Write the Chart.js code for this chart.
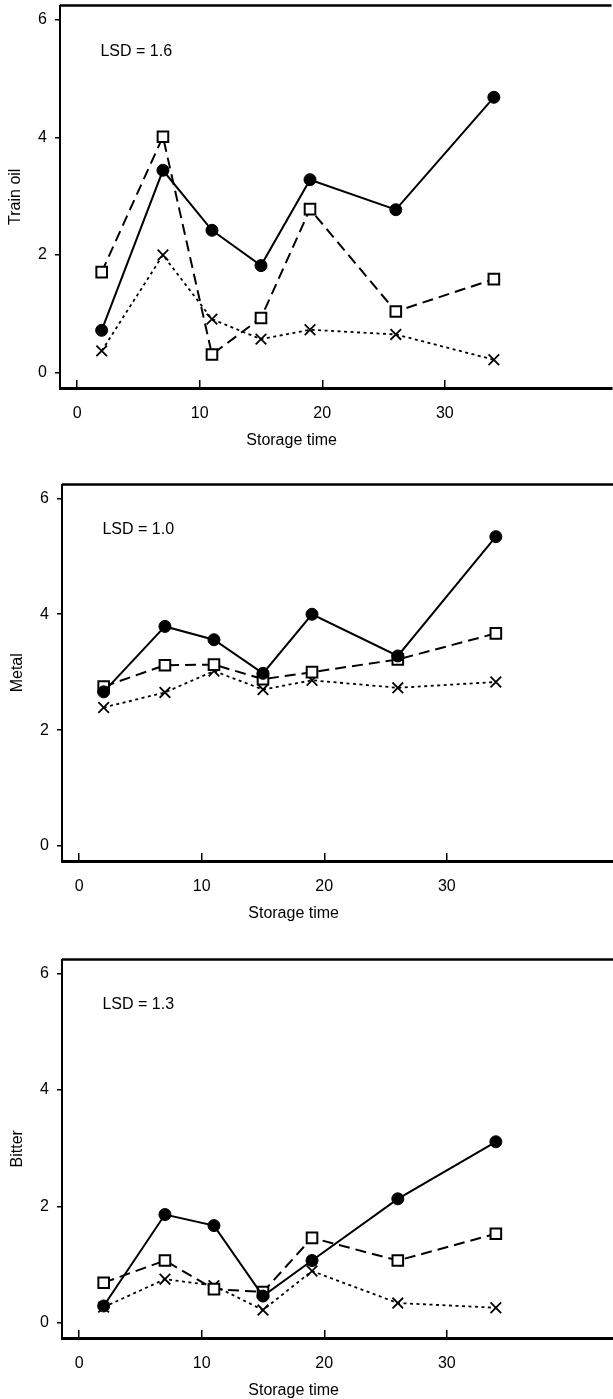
<!DOCTYPE html>
<html>
<head>
<meta charset="utf-8">
<script src="https://cdn.jsdelivr.net/npm/chart.js@4/dist/chart.umd.min.js"></script>
<style>
  html, body { margin: 0; padding: 0; background: #fff; overflow: hidden; width: 613px; height: 1399px; position: relative; }
  .panel { position: absolute; }
</style>
</head>
<body>
<div class="panel" style="left:0;top:-4px"><canvas id="trainOil" width="621" height="456"></canvas></div>
<div class="panel" style="left:2px;top:475px"><canvas id="metal" width="621" height="450"></canvas></div>
<div class="panel" style="left:2px;top:950px"><canvas id="bitter" width="621" height="452"></canvas></div>
<script>
// storage time (x) for every series
const storageTime = [2, 7, 11, 15, 19, 26, 34];
const xTickValues = [0, 10, 20, 30];
const yTickValues = [0, 2, 4, 6];

// Train oil
const trainOilDots = [0.72, 3.44, 2.42, 1.82, 3.28, 2.77, 4.68];
const trainOilSquares = [1.71, 4.01, 0.31, 0.93, 2.78, 1.04, 1.59];
const trainOilCrosses = [0.37, 2.00, 0.91, 0.57, 0.73, 0.65, 0.22];

// Metal
const metalDots = [2.66, 3.79, 3.56, 2.98, 4.00, 3.28, 5.34];
const metalSquares = [2.75, 3.12, 3.13, 2.88, 3.00, 3.22, 3.67];
const metalCrosses = [2.39, 2.65, 3.02, 2.70, 2.86, 2.73, 2.83];

// Bitter
const bitterDots = [0.29, 1.86, 1.67, 0.46, 1.07, 2.13, 3.11];
const bitterSquares = [0.69, 1.07, 0.58, 0.53, 1.46, 1.07, 1.53];
const bitterCrosses = [0.27, 0.75, 0.64, 0.22, 0.89, 0.34, 0.26];

const lsdLabels = ["LSD = 1.6", "LSD = 1.0", "LSD = 1.3"];
const lsdPos = { x: 1.9, y: 5.46 };
const xTitle = "Storage time";
const xTitleCenter = 17.5; // the axis title sits under the middle of the used range, not the box

const FONT = '"Liberation Sans", Arial, sans-serif';

function toPoints(values) {
    return storageTime.map((t, i) => ({ x: t, y: values[i] }));
}

// top edge of the box, the LSD note and the x title
const framePlugin = {
    id: 'frame',
    afterDraw(chart, args, opts) {
        const { ctx, chartArea, scales } = chart;
        ctx.save();
        ctx.strokeStyle = '#000';
        ctx.lineWidth = 2.5;
        ctx.beginPath();
        ctx.moveTo(chartArea.left, chartArea.top);
        ctx.lineTo(chartArea.right, chartArea.top);
        ctx.stroke();

        ctx.font = '16px ' + FONT;
        ctx.fillStyle = '#000';
        ctx.textBaseline = 'middle';
        ctx.textAlign = 'left';
        ctx.fillText(opts.text, scales.x.getPixelForValue(lsdPos.x), scales.y.getPixelForValue(lsdPos.y));

        ctx.textAlign = 'center';
        ctx.fillText(xTitle, scales.x.getPixelForValue(xTitleCenter), chartArea.bottom + 53);
        ctx.restore();
    }
};

function makePanel(id, yTitle, lsd, dots, squares, crosses) {
    const ctx = document.getElementById(id).getContext('2d');
    return new Chart(ctx, {
        type: 'line',
        data: {
            datasets: [
                {
                    data: toPoints(dots),
                    borderColor: '#000',
                    borderWidth: 2,
                    pointStyle: 'circle',
                    pointRadius: 6,
                    pointBackgroundColor: '#000',
                    pointBorderColor: '#000',
                    pointBorderWidth: 1,
                    tension: 0,
                    fill: false
                },
                {
                    data: toPoints(squares),
                    borderColor: '#000',
                    borderWidth: 2,
                    borderDash: [11, 6],
                    pointStyle: 'rect',
                    pointRadius: 7.5,
                    pointBackgroundColor: '#fff',
                    pointBorderColor: '#000',
                    pointBorderWidth: 2,
                    tension: 0,
                    fill: false
                },
                {
                    data: toPoints(crosses),
                    borderColor: '#000',
                    borderWidth: 1.8,
                    borderDash: [3, 3.5],
                    pointStyle: 'crossRot',
                    pointRadius: 7.5,
                    pointBorderColor: '#000',
                    pointBorderWidth: 1.8,
                    tension: 0,
                    fill: false
                }
            ]
        },
        options: {
            responsive: false,
            animation: false,
            layout: { padding: { top: 5, bottom: 0, left: 0, right: 0 } },
            plugins: {
                legend: { display: false },
                tooltip: { enabled: false },
                frame: { text: lsd }
            },
            scales: {
                x: {
                    type: 'linear',
                    min: -1.4,
                    max: 43.6,
                    afterFit: s => { s.height = 64; s.paddingLeft = 0; s.paddingRight = 0; },
                    afterBuildTicks: s => { s.ticks = xTickValues.map(v => ({ value: v })); },
                    border: { display: true, color: '#000', width: 3 },
                    grid: { drawOnChartArea: false, drawTicks: true, tickLength: -8, color: '#000', lineWidth: 1.5 },
                    ticks: { color: '#000', padding: 24, maxRotation: 0, font: { family: FONT, size: 16 } },
                    title: { display: false }
                },
                y: {
                    type: 'linear',
                    min: -0.26,
                    max: 6.24,
                    afterFit: s => { s.width = 60; s.paddingTop = 0; s.paddingBottom = 0; },
                    afterBuildTicks: s => { s.ticks = yTickValues.map(v => ({ value: v })); },
                    border: { display: true, color: '#000', width: 2 },
                    grid: { drawOnChartArea: false, drawTicks: true, tickLength: 5, color: '#000', lineWidth: 1.5 },
                    ticks: { color: '#000', padding: 8, font: { family: FONT, size: 16 } },
                    title: { display: true, text: yTitle, color: '#000', padding: { top: 6, bottom: 0 }, font: { family: FONT, size: 16 } }
                }
            }
        },
        plugins: [framePlugin]
    });
}

makePanel('trainOil', 'Train oil', lsdLabels[0], trainOilDots, trainOilSquares, trainOilCrosses);
makePanel('metal', 'Metal', lsdLabels[1], metalDots, metalSquares, metalCrosses);
makePanel('bitter', 'Bitter', lsdLabels[2], bitterDots, bitterSquares, bitterCrosses);
</script>
</body>
</html>
